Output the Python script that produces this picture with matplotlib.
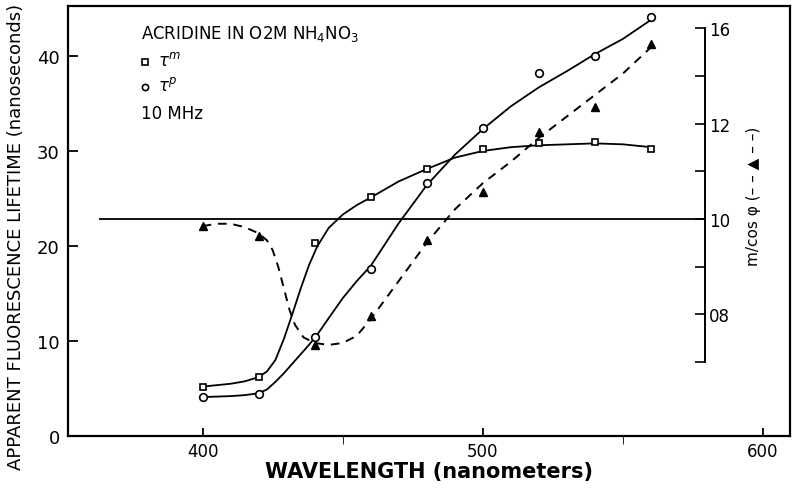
import matplotlib
matplotlib.use("Agg")
import matplotlib.pyplot as plt
import numpy as np

# measured points
wl = [400, 420, 440, 460, 480, 500, 520, 540, 560]
tau_m = [5.2, 6.2, 20.3, 25.2, 28.1, 30.2, 30.8, 30.9, 30.2]
tau_p = [4.1, 4.4, 10.4, 17.6, 26.6, 32.4, 38.2, 40.0, 44.1]
m_cos = [0.985, 0.965, 0.735, 0.797, 0.955, 1.057, 1.182, 1.235, 1.367]

# hand drawn curves
curve_wl = [400, 405, 410, 415, 420, 423, 426, 429, 432, 435, 438, 441, 445, 450, 455,
            460, 470, 480, 490, 500, 510, 520, 530, 540, 550, 560]
curve_m = [5.2, 5.35, 5.5, 5.75, 6.2, 6.8, 8.0, 10.2, 12.8, 15.5, 18.0, 20.0, 21.9, 23.3, 24.3,
           25.1, 26.8, 28.1, 29.3, 30.0, 30.4, 30.6, 30.7, 30.8, 30.7, 30.4]
curve_p = [4.1, 4.15, 4.2, 4.3, 4.5, 4.9, 5.7, 6.6, 7.6, 8.6, 9.6, 10.7, 12.4, 14.5, 16.3,
           17.9, 22.4, 26.4, 29.6, 32.3, 34.7, 36.7, 38.4, 40.2, 41.8, 43.8]
dash_wl = [400, 405, 410, 415, 420, 423, 425, 427, 429, 431, 433, 436,
           440, 445, 450, 455, 460, 470, 480, 490, 500, 510, 520, 530, 540, 550, 560]
dash_v = [0.985, 0.99, 0.99, 0.983, 0.97, 0.955, 0.935, 0.90, 0.855, 0.81, 0.778, 0.752,
          0.74, 0.736, 0.74, 0.755, 0.79, 0.87, 0.95, 1.02, 1.075, 1.12, 1.17,
          1.215, 1.26, 1.305, 1.36]

right_ticks = [0.7, 0.8, 0.9, 1.0, 1.1, 1.2, 1.3, 1.4]
right_labels = ['', '08', '', '10', '', '12', '', '16']

fig = plt.figure(figsize=(8, 4.89), dpi=100)
ax = fig.add_axes([0.085, 0.1063, 0.9025, 0.8794])
ax.set_xlim(352, 609.6)
ax.set_ylim(0, 45.26)

ax.plot(curve_wl, curve_m, color='black', lw=1.3)
ax.plot(curve_wl, curve_p, color='black', lw=1.3)
ax.plot(wl, tau_m, ls='none', marker='s', ms=5, mfc='white', mec='black', mew=1.2)
ax.plot(wl, tau_p, ls='none', marker='o', ms=5.5, mfc='white', mec='black', mew=1.2)

for s in ax.spines.values():
    s.set_linewidth(1.6)
ax.set_xticks([400, 500, 600])
ax.set_xticks([450, 550], minor=True)
ax.set_yticks([0, 10, 20, 30, 40])
ax.tick_params(axis='both', direction='in', length=7, width=1.3, labelsize=13)
ax.tick_params(axis='x', which='both', length=6, pad=4, labelsize=12)
ax.tick_params(axis='y', pad=6)

ax.set_xlabel('WAVELENGTH (nanometers)', fontsize=15, fontweight='bold', labelpad=1)
ax.set_ylabel('APPARENT FLUORESCENCE LIFETIME (nanoseconds)', fontsize=13)
ax.yaxis.set_label_coords(-0.06, 0.465)

# second scale: m/cos phi
ax2 = ax.twinx()
ax2.set_ylim(0.545, 1.4465)
ax2.plot(dash_wl, dash_v, color='black', lw=1.4, dashes=(4.5, 3.5))
ax2.plot(wl, m_cos, ls='none', marker='^', ms=6, color='black')
ax2.hlines(1.0, 363, 579.3, color='black', lw=1.3)
for k in ['top', 'left', 'bottom']:
    ax2.spines[k].set_visible(False)
ax2.spines['right'].set_position(('data', 579.3))
ax2.spines['right'].set_bounds(0.7, 1.4)
ax2.spines['right'].set_linewidth(1.4)
ax2.set_yticks(right_ticks)
ax2.set_yticklabels(right_labels)
ax2.tick_params(axis='y', direction='in', length=7, width=1.2, labelsize=12, pad=3)
ax2.text(596.4, 1.05, 'm/cos φ (– – ▲ – –)', rotation=90, ha='center', va='center',
         fontsize=11)

# key
ax.text(378, 42.4, r'ACRIDINE IN O2M NH$_4$NO$_3$', fontsize=12, va='center')
ax.plot([379.5], [39.4], ls='none', marker='s', ms=4.5, mfc='white', mec='black', mew=1.2)
ax.text(384, 39.6, r'$\tau^m$', fontsize=12, va='center')
ax.plot([379.5], [36.7], ls='none', marker='o', ms=4.5, mfc='white', mec='black', mew=1.2)
ax.text(384, 36.9, r'$\tau^p$', fontsize=12, va='center')
ax.text(378, 34.0, '10 MHz', fontsize=12, va='center')

plt.savefig('out.png', dpi=100)
